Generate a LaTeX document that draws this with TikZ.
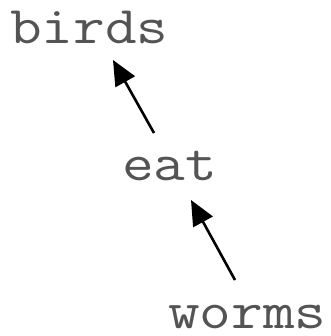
\documentclass[tikz,border=0pt]{standalone}
\usepackage{fontspec}
\usepackage{graphicx}
\usetikzlibrary{arrows.meta,calc}
\definecolor{wordgray}{RGB}{84,84,84}
\newcommand{\widerword}[1]{\scalebox{1.16}[1]{#1}}
\begin{document}
\begin{tikzpicture}[x=1bp,y=-1bp,
  word/.style={font=\fontsize{53bp}{60bp}\selectfont\ttfamily\addfontfeature{FakeBold=1.2}, text=wordgray,
    inner sep=0pt, anchor=base west},
  arr/.style={line width=2.6bp, black, -{Triangle[length=25bp,width=22bp]}}]
\useasboundingbox (0,0) rectangle (331,336);
\node[word] (birds) at (10,43) {\widerword{birds}};
\node[word] (eat) at (122,180) {\widerword{eat}};
\node[word] (worms) at (168,328) {\widerword{worms}};
\draw[arr] ($(eat.base west)+(32,-47)$) -- ($(birds.base west)+(103,17)$);
\draw[arr] ($(worms.base west)+(67,-48)$) -- ($(eat.base west)+(69,20)$);
\end{tikzpicture}
\end{document}
